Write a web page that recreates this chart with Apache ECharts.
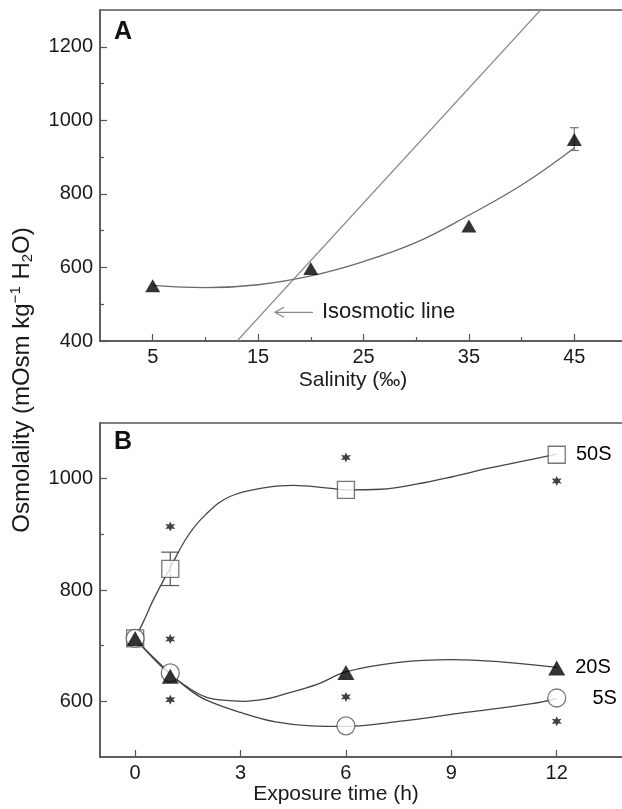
<!DOCTYPE html>
<html>
<head>
<meta charset="utf-8">
<title>Osmolality</title>
<script src="https://cdn.jsdelivr.net/npm/echarts@6/dist/echarts.min.js"></script>
<style>
  html, body { margin: 0; padding: 0; background: #fff; }
  #chart { width: 622px; height: 809px; }
</style>
</head>
<body>
<div id="chart"></div>
<script>
// ---- panel A : salinity ----
var aSalinity = [5, 20, 35, 45];
var aOsm = [550, 597, 713, 948];
var aErrX = [45];
var aErrLo = [918];
var aErrHi = [980];
var aFitX = [5, 10, 15, 20, 25, 30, 35, 40, 45];
var aFitY = [551, 545, 553, 577, 616, 668, 742, 824, 925];
var isoX = [13, 41.8];
var isoY = [400, 1300];
var arrowX = [20.2, 16.6];   // tail, head
var arrowY = 478;
var aXTicks = [5, 15, 25, 35, 45];
var aXMinor = [10, 20, 30, 40];
var aYTicks = [400, 600, 800, 1000, 1200];
var aYMinor = [500, 700, 900, 1100];

// ---- panel B : exposure time ----
var bTime = [0, 1, 6, 12];
var b50 = [713, 838, 980, 1043];
var b20 = [713, 645, 652, 660];
var b5 = [713, 651, 556, 606];
var bErrX = [1];
var bErrLo = [808];
var bErrHi = [868];
var starT = [1, 1, 1, 6, 6, 12, 12];
var starY = [914, 712, 603, 1038, 608, 996, 564];
var c50T = [0, 0.25, 0.5, 1, 1.5, 2, 2.7, 3.8, 4.5, 5.5, 6, 7, 8, 9, 10, 11, 12];
var c50Y = [713, 745, 780, 840, 897, 935, 968, 985, 988, 983, 980, 981, 990, 1003, 1018, 1031, 1044];
var c20T = [0, 0.5, 1, 1.5, 2, 2.5, 3.1, 3.7, 4.2, 5.2, 6, 7.5, 9, 10.4, 12];
var c20Y = [713, 678, 648, 625, 608, 602, 600, 604, 612, 631, 653, 670, 675, 671, 661];
var c5T = [0, 0.5, 1, 1.5, 2, 3, 4, 5, 6, 7.5, 9.4, 11.3, 12];
var c5Y = [713, 680, 650, 623, 603, 580, 563, 556, 555, 564, 580, 596, 605];
var bXTicks = [0, 3, 6, 9, 12];
var bYTicks = [600, 800, 1000];
var bYMinor = [700, 900];

function pts(xs, ys) {
    return xs.map(function (x, i) { return [x, ys[i]]; });
}

var FONT = "'Liberation Sans', Arial, sans-serif";
var AXIS = '#555';
var TXT = '#1a1a1a';

// 6-point asterisk shape
function starPath() {
    var d = '';
    for (var i = 0; i < 12; i++) {
        var r = i % 2 === 0 ? 10 : 4.8;
        var a = Math.PI / 2 + i * Math.PI / 6;
        d += (i === 0 ? 'M' : 'L') + (10 + r * Math.cos(a)).toFixed(2) + ' ' + (10 - r * Math.sin(a)).toFixed(2) + ' ';
    }
    return 'path://' + d + 'Z';
}

function plain(v) { return String(v); }

function majorX(grid, min, max, ticks) {
    return {
        gridIndex: grid, type: 'value', position: 'bottom', min: min, max: max,
        axisLine: {show: true, onZero: false, lineStyle: {color: AXIS, width: 1.5}},
        axisTick: {show: true, inside: true, length: 7, customValues: ticks, lineStyle: {color: AXIS, width: 1.2}},
        axisLabel: {customValues: ticks, formatter: plain, color: TXT, fontSize: 20, fontFamily: FONT, margin: 6},
        splitLine: {show: false}
    };
}
function minorX(grid, min, max, ticks) {
    return {
        gridIndex: grid, type: 'value', position: 'bottom', min: min, max: max,
        axisLine: {show: false, onZero: false},
        axisTick: {show: true, inside: true, length: 4, customValues: ticks, lineStyle: {color: AXIS, width: 1.2}},
        axisLabel: {show: false},
        splitLine: {show: false}
    };
}
function majorY(grid, min, max, ticks) {
    return {
        gridIndex: grid, type: 'value', position: 'left', min: min, max: max,
        axisLine: {show: true, onZero: false, lineStyle: {color: AXIS, width: 1.5}},
        axisTick: {show: true, inside: true, length: 7, customValues: ticks, lineStyle: {color: AXIS, width: 1.2}},
        axisLabel: {customValues: ticks, formatter: plain, color: TXT, fontSize: 20, fontFamily: FONT, margin: 7},
        splitLine: {show: false}
    };
}
function minorY(grid, min, max, ticks) {
    return {
        gridIndex: grid, type: 'value', position: 'left', min: min, max: max,
        axisLine: {show: false, onZero: false},
        axisTick: {show: true, inside: true, length: 4, customValues: ticks, lineStyle: {color: AXIS, width: 1.2}},
        axisLabel: {show: false},
        splitLine: {show: false}
    };
}

function errBar(capHalf, color) {
    return function (params, api) {
        var x = api.value(0);
        var p1 = api.coord([x, api.value(1)]);
        var p2 = api.coord([x, api.value(2)]);
        var st = {stroke: color, lineWidth: 1.2};
        return {
            type: 'group',
            children: [
                {type: 'line', shape: {x1: p1[0], y1: p1[1], x2: p2[0], y2: p2[1]}, style: st},
                {type: 'line', shape: {x1: p1[0] - capHalf, y1: p1[1], x2: p1[0] + capHalf, y2: p1[1]}, style: st},
                {type: 'line', shape: {x1: p2[0] - capHalf, y1: p2[1], x2: p2[0] + capHalf, y2: p2[1]}, style: st}
            ]
        };
    };
}

function endLabel(name, dist) {
    return {
        show: true, position: 'right', distance: dist, opacity: 1,
        color: '#000', fontSize: 20, fontFamily: FONT,
        formatter: function (p) { return p.value[0] === 12 ? name : ''; }
    };
}

var chart = echarts.init(document.getElementById('chart'));

var option = {
    animation: false,
    backgroundColor: '#fff',
    grid: [
        {left: 100, top: 10, width: 527, height: 331, outerBoundsMode: 'none', show: true, borderColor: AXIS, borderWidth: 1.5},
        {left: 100, top: 423, width: 527, height: 334, outerBoundsMode: 'none', show: true, borderColor: AXIS, borderWidth: 1.5}
    ],
    xAxis: [
        majorX(0, 0, 50, aXTicks),
        minorX(0, 0, 50, aXMinor),
        majorX(1, -1, 14, bXTicks)
    ],
    yAxis: [
        majorY(0, 400, 1300, aYTicks),
        minorY(0, 400, 1300, aYMinor),
        majorY(1, 500, 1100, bYTicks),
        minorY(1, 500, 1100, bYMinor)
    ],
    graphic: [
        {type: 'text', left: 114, top: 20, style: {text: 'A', font: 'bold 25px ' + FONT, fill: '#111'}},
        {type: 'text', left: 114, top: 430, style: {text: 'B', font: 'bold 25px ' + FONT, fill: '#111'}},
        {type: 'text', x: 353, y: 380, style: {text: 'Salinity (‰)', font: '21px ' + FONT, fill: TXT, align: 'center', verticalAlign: 'middle'}},
        {type: 'text', x: 336, y: 794, style: {text: 'Exposure time (h)', font: '21px ' + FONT, fill: TXT, align: 'center', verticalAlign: 'middle'}},
        {
            type: 'text', x: 22, y: 380, rotation: Math.PI / 2,
            style: {
                text: 'Osmolality (mOsm kg{sup|−1} H{sub|2}O)',
                font: '24px ' + FONT, fill: TXT, align: 'center', verticalAlign: 'middle',
                rich: {
                    sup: {fontSize: 15, fontFamily: FONT, fill: TXT, padding: [0, 0, 13, 0]},
                    sub: {fontSize: 15, fontFamily: FONT, fill: TXT, padding: [11, 0, 0, 0]}
                }
            }
        }
    ],
    series: [
        // panel A
        {
            type: 'line', xAxisIndex: 0, yAxisIndex: 0, data: pts(isoX, isoY),
            symbol: 'none', silent: true, lineStyle: {color: '#8c8c8c', width: 1.2}
        },
        {
            type: 'line', xAxisIndex: 0, yAxisIndex: 0, data: pts(aFitX, aFitY),
            smooth: 0.4, symbol: 'none', silent: true, lineStyle: {color: '#6a6a6a', width: 1.3}
        },
        {
            type: 'custom', xAxisIndex: 0, yAxisIndex: 0, silent: true,
            data: aErrX.map(function (x, i) { return [x, aErrLo[i], aErrHi[i]]; }),
            renderItem: errBar(4.5, '#777')
        },
        {
            type: 'scatter', xAxisIndex: 0, yAxisIndex: 0, data: pts(aSalinity, aOsm),
            symbol: 'triangle', symbolSize: [15, 13], itemStyle: {color: '#000'}, z: 5
        },
        {
            type: 'custom', xAxisIndex: 0, yAxisIndex: 0, silent: true,
            data: [[arrowX[0], arrowY, arrowX[1]]],
            renderItem: function (params, api) {
                var tail = api.coord([api.value(0), api.value(1)]);
                var head = api.coord([api.value(2), api.value(1)]);
                var st = {stroke: '#888', lineWidth: 1.2, fill: 'none'};
                return {
                    type: 'group',
                    children: [
                        {type: 'line', shape: {x1: tail[0], y1: tail[1], x2: head[0], y2: head[1]}, style: st},
                        {type: 'polyline', shape: {points: [[head[0] + 9, head[1] - 5], head, [head[0] + 9, head[1] + 5]]}, style: st},
                        {type: 'text', x: tail[0] + 9, y: tail[1], style: {text: 'Isosmotic line', font: '22px ' + FONT, fill: TXT, verticalAlign: 'middle'}}
                    ]
                };
            }
        },
        // panel B curves
        {
            type: 'line', xAxisIndex: 2, yAxisIndex: 2, data: pts(c50T, c50Y),
            smooth: 0.4, symbol: 'none', silent: true, lineStyle: {color: '#444', width: 1.3}
        },
        {
            type: 'line', xAxisIndex: 2, yAxisIndex: 2, data: pts(c20T, c20Y),
            smooth: 0.4, symbol: 'none', silent: true, lineStyle: {color: '#444', width: 1.3}
        },
        {
            type: 'line', xAxisIndex: 2, yAxisIndex: 2, data: pts(c5T, c5Y),
            smooth: 0.4, symbol: 'none', silent: true, lineStyle: {color: '#444', width: 1.3}
        },
        {
            type: 'custom', xAxisIndex: 2, yAxisIndex: 2, silent: true,
            data: bErrX.map(function (x, i) { return [x, bErrLo[i], bErrHi[i]]; }),
            renderItem: errBar(9, '#555')
        },
        {
            type: 'scatter', xAxisIndex: 2, yAxisIndex: 2, data: pts(bTime, b50),
            symbol: 'rect', symbolSize: 17, z: 5,
            itemStyle: {color: '#fff', borderColor: '#555', borderWidth: 1.3},
            label: endLabel('50S', 10)
        },
        {
            type: 'scatter', xAxisIndex: 2, yAxisIndex: 2, data: pts(bTime, b5),
            symbol: 'circle', symbolSize: 18, z: 6,
            itemStyle: {color: '#fff', borderColor: '#555', borderWidth: 1.3},
            label: endLabel('5S', 26)
        },
        {
            type: 'scatter', xAxisIndex: 2, yAxisIndex: 2, data: pts(bTime, b20),
            symbol: 'triangle', symbolSize: [17, 15], z: 7,
            itemStyle: {color: '#000'},
            label: endLabel('20S', 10)
        },
        {
            type: 'scatter', xAxisIndex: 2, yAxisIndex: 2, data: pts(starT, starY),
            symbol: starPath(), symbolSize: 10, z: 5, itemStyle: {color: '#111'}
        }
    ]
};

chart.setOption(option);
</script>
</body>
</html>
